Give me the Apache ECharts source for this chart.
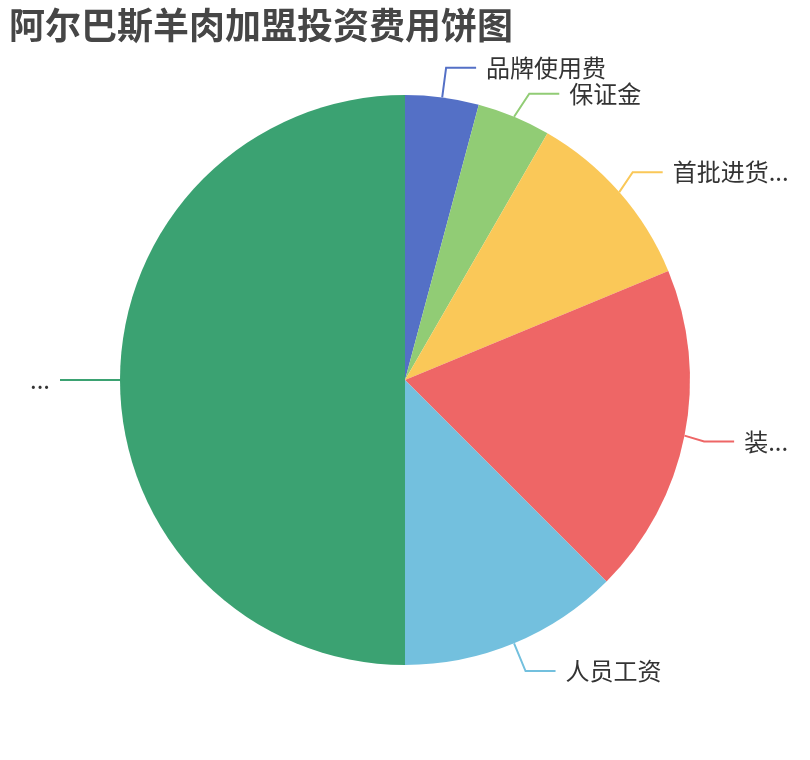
<!DOCTYPE html>
<html>
<head>
<meta charset="utf-8">
<script src="https://cdn.jsdelivr.net/npm/echarts@6/dist/echarts.min.js"></script>
<style>
  html, body { margin: 0; padding: 0; background: #fff; }
  #chart { width: 810px; height: 760px; }
</style>
</head>
<body>
<div id="chart"></div>
<script>
// slice names and values (万元), clockwise from 12 o'clock
const itemNames = ['品牌使用费', '保证金', '首批进货费用', '装修费用', '人员工资', '店面租金'];
const itemValues = [2, 2, 5, 9, 6, 24];
const sliceColors = ['#5470c6', '#91cc75', '#fac858', '#ee6666', '#73c0de', '#3ba272'];

const chart = echarts.init(document.getElementById('chart'));

const option = {
  color: sliceColors,
  title: {
    text: '阿尔巴斯羊肉加盟投资费用饼图',
    left: 4,
    top: 2,
    textStyle: {
      fontSize: 36,
      fontWeight: 'bold',
      color: '#464646',
      fontFamily: 'Noto Sans CJK SC'
    }
  },
  series: [
    {
      type: 'pie',
      center: ['50%', '50%'],
      radius: '75%',
      startAngle: 90,
      clockwise: true,
      data: itemNames.map((name, i) => ({ name: name, value: itemValues[i] })),
      label: {
        fontSize: 24,
        color: '#333',
        fontFamily: 'Noto Sans CJK SC',
        distanceToLabelLine: 10
      },
      labelLine: {
        length: 30,
        length2: 30,
        lineStyle: { width: 2 }
      }
    }
  ]
};

chart.setOption(option);
</script>
</body>
</html>
